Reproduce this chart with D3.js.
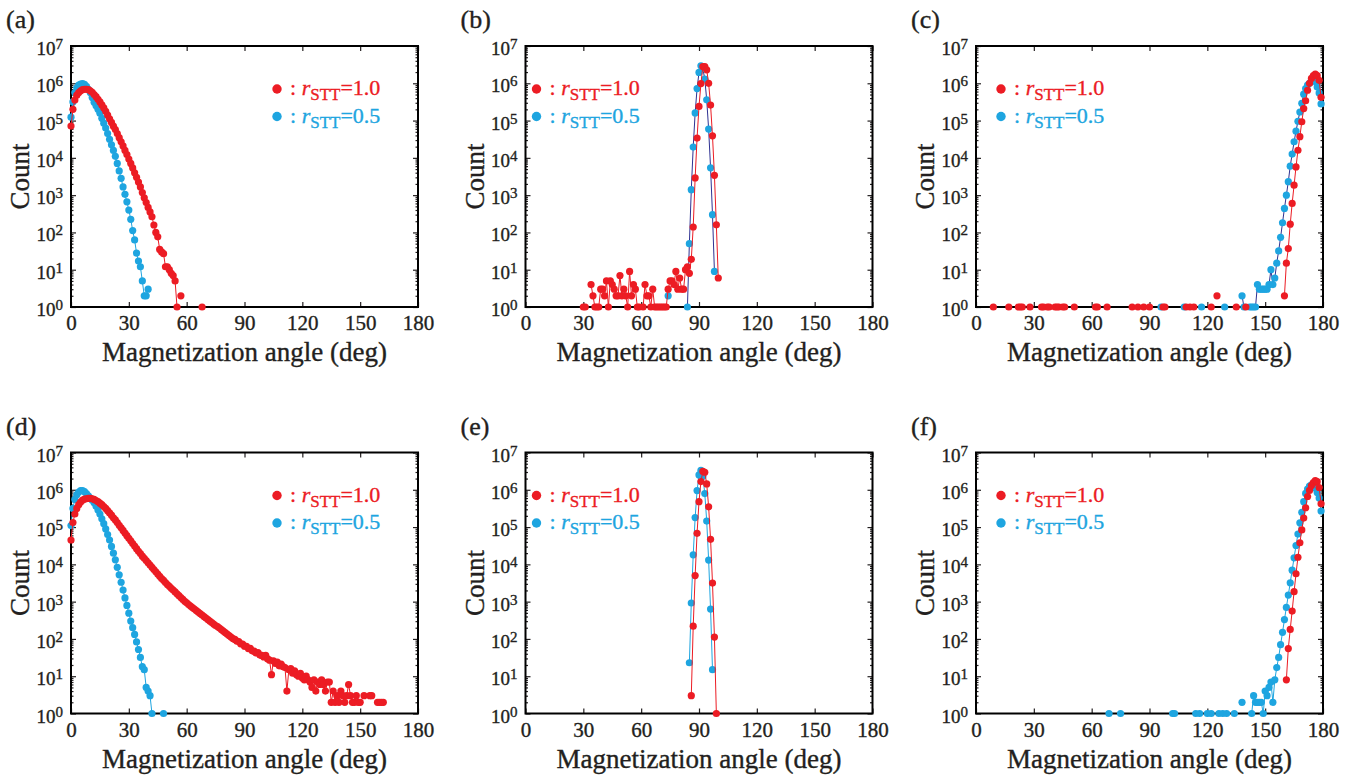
<!DOCTYPE html>
<html>
<head>
<meta charset="utf-8">
<script src="https://cdn.jsdelivr.net/npm/d3@7"></script>
<style>
  html, body { margin: 0; padding: 0; background: #fff; }
  svg { display: block; }
</style>
</head>
<body>
<svg id="fig" width="1361" height="777"></svg>
<script>
// Magnetization-angle histograms (1° bins) on a log count axis.
// Dense runs of bins are given as a start angle plus counts (0 = empty bin);
// isolated bins are listed as [angle, count].

const angleTicks = [0, 30, 60, 90, 120, 150, 180];
const countDecades = [1, 10, 100, 1e3, 1e4, 1e5, 1e6, 1e7];
const panelLetters = ['(a)', '(b)', '(c)', '(d)', '(e)', '(f)'];
const seriesLabels = ['=1.0', '=0.5'];

// (a)
const aRedFrom = 0;
const aRedCounts = [
  71000, 200000, 355000, 479000, 562000, 631000, 676000, 692000, 692000, 676000,
  631000, 575000, 501000, 437000, 372000, 316000, 263000, 219000, 178000, 141000,
  112000, 89100, 70800, 57500, 44700, 34700, 26900, 20900, 15800, 12300,
  9330, 7080, 5370, 3980, 3020, 2240, 1660, 1170, 851, 631,
  468, 355, 263, 158, 100, 76, 35, 30, 27, 12,
  12, 10, 8, 7, 5, 1, 0, 2
];
const aRedStray = [[68, 1]];
const aBlueFrom = 0;
const aBlueCounts = [
  123000, 316000, 562000, 759000, 891000, 955000, 977000, 933000, 832000, 692000,
  562000, 417000, 309000, 251000, 200000, 158000, 115000, 85100, 63100, 44700,
  31600, 22400, 15800, 11000, 7080, 4470, 2820, 1660, 1050, 661,
  398, 224, 112, 63, 28, 17, 12, 5, 2, 2,
  3
];

// (b)
const bRedFrom = 30;
const bRedCounts = [
  1, 1, 0, 0, 4, 2, 1, 1, 1, 3,
  3, 2, 5, 1, 5, 4, 3, 2, 2, 7,
  2, 3, 2, 1, 9, 2, 4, 3, 1, 1,
  0, 1, 4, 2, 2, 1, 3, 1, 1, 1,
  1, 1, 1, 1, 3, 5, 5, 4, 9, 3,
  6, 3, 3, 10, 12, 8, 19, 140, 2900, 34000,
  240000, 980000, 2800000, 2800000, 2300000, 1000000, 260000, 39000, 3400, 160,
  6
];
const bBlueStray = [[74, 2]];
const bBlueFrom = 84;
const bBlueCounts = [1, 50, 1400, 19500, 160000, 720000, 1950000, 2950000, 2500000, 1300000, 360000, 59000, 5400, 300, 9];

// (c)
const cRedStray = [
  [9, 1], [17, 1], [22, 1], [23, 1], [24, 1], [28, 1], [34, 1], [35, 1], [37, 1], [38, 1],
  [41, 1], [42, 1], [43, 1], [45, 1], [46, 1], [51, 1], [62, 1], [63, 1], [68, 1], [81, 1],
  [84, 1], [87, 1], [90, 1], [97, 1], [98, 1], [109, 1], [111, 1], [113, 1], [122, 1], [125, 2],
  [135, 1], [140, 1]
];
const cRedFrom = 160;
const cRedCounts = [2, 15, 37, 166, 600, 1850, 5700, 16000, 37000, 93000, 210000, 340000, 650000, 1000000, 1350000, 1600000, 1750000, 1600000, 1200000, 420000];
const cBlueStray = [[96, 1], [108, 1], [117, 1], [129, 1], [138, 2], [139, 1], [142, 1], [143, 1], [144, 1], [145, 1]];
const cBlueFrom = 146;
const cBlueCounts = [
  4, 3, 3, 3, 3, 3, 4, 10, 4, 6,
  15, 32, 74, 182, 440, 1000, 2300, 6000, 12600, 27000,
  52000, 96000, 170000, 290000, 510000, 720000, 900000, 1000000, 1200000, 1200000,
  1100000, 800000, 550000, 280000
];

// (d)
const dRedFrom = 0;
const dRedCounts = [
  45000, 132000, 224000, 316000, 398000, 468000, 525000, 562000, 575000, 589000,
  589000, 575000, 550000, 513000, 479000, 437000, 398000, 355000, 316000, 275000,
  240000, 209000, 178000, 155000, 132000, 112000, 95500, 81300, 69200, 58900,
  50100, 42700, 36300, 30900, 26300, 22400, 19500, 16600, 14500, 12600,
  11000, 9550, 8320, 7240, 6310, 5500, 4790, 4170, 3720, 3240,
  2880, 2570, 2290, 2040, 1820, 1620, 1450, 1290, 1150, 1020,
  933, 832, 759, 692, 631, 575, 525, 479, 437, 398,
  363, 331, 302, 275, 251, 229, 214, 195, 178, 162,
  148, 135, 123, 112, 102, 97, 88, 85, 74, 73,
  64, 63, 55, 56, 48, 47, 42, 43, 37, 36,
  33, 36, 29, 27, 11, 26, 22, 24, 19, 21,
  18, 17, 4, 15, 16, 12, 14, 11, 10, 12,
  9, 8, 10, 8, 7, 5, 8, 4, 7, 6,
  8, 6, 4, 7, 7, 2, 4, 2, 3, 2,
  4, 3, 2, 3, 6, 3, 2, 2, 3, 2,
  2, 0, 3, 0, 0, 3, 3, 0, 0, 2,
  2, 2, 2
];
const dBlueFrom = 0;
const dBlueCounts = [
  110000, 316000, 550000, 741000, 871000, 955000, 955000, 891000, 794000, 692000,
  603000, 525000, 447000, 363000, 288000, 224000, 166000, 123000, 89100, 63100,
  44700, 30200, 20000, 13200, 8320, 5250, 3310, 2040, 1260, 794,
  490, 302, 200, 132, 83, 52, 32, 18, 15, 5,
  4, 3, 1
];
const dBlueStray = [[48, 1]];

// (e)
const eRedFrom = 86;
const eRedCounts = [3, 220, 5000, 68000, 480000, 1660000, 3100000, 2950000, 1440000, 350000, 47000, 3150, 112, 1];
const eBlueFrom = 85;
const eBlueCounts = [23, 920, 18000, 180000, 950000, 2500000, 3300000, 2300000, 790000, 145000, 13000, 630, 15];

// (f)
const fRedFrom = 161;
const fRedCounts = [8, 55, 180, 560, 1850, 5600, 15500, 38000, 84000, 174000, 330000, 660000, 960000, 1300000, 1550000, 1750000, 1650000, 1150000, 420000];
const fBlueStray = [[69, 1], [75, 1], [102, 1], [103, 1], [114, 1], [116, 1], [120, 1], [122, 1], [126, 1], [128, 1], [130, 1], [134, 1], [138, 2]];
const fBlueFrom = 143;
const fBlueCounts = [
  1, 3, 2, 2, 2, 2, 1, 4, 3, 5,
  7, 2, 8, 17, 32, 70, 150, 330, 700, 1500,
  3200, 7000, 15000, 32000, 65000, 130000, 250000, 480000, 800000, 1050000,
  1250000, 1350000, 1300000, 1100000, 850000, 600000, 270000
];

// ---------------------------------------------------------------------------
const RED = '#ec1c24';
const CYAN = '#1ea5e0';
const NAVY = '#2e3192';
const INK = '#231f20';
const SERIF = "'Liberation Serif', 'Times New Roman', serif";

// Turn a dense run of bins into [angle, count] pairs and merge with isolated bins.
function bins(from, counts) { return counts.map((c, i) => [from + i, c]); }
function series(...parts) {
  return parts.flat().filter(p => p[1] > 0).sort((a, b) => a[0] - b[0]);
}
// Split into runs of adjacent bins, so that empty bins break the connecting line.
function runs(pts) {
  const out = [];
  let cur = [];
  pts.forEach((p, i) => {
    if (i > 0 && p[0] - pts[i - 1][0] > 1) { out.push(cur); cur = []; }
    cur.push(p);
  });
  if (cur.length) out.push(cur);
  return out;
}

const panels = [
  { red: series(bins(aRedFrom, aRedCounts), aRedStray), blue: series(bins(aBlueFrom, aBlueCounts)), blueStroke: CYAN, legendX: 206 },
  { red: series(bins(bRedFrom, bRedCounts)), blue: series(bins(bBlueFrom, bBlueCounts), bBlueStray), blueStroke: NAVY, legendX: 11 },
  { red: series(bins(cRedFrom, cRedCounts), cRedStray), blue: series(bins(cBlueFrom, cBlueCounts), cBlueStray), blueStroke: NAVY, legendX: 25 },
  { red: series(bins(dRedFrom, dRedCounts)), blue: series(bins(dBlueFrom, dBlueCounts), dBlueStray), blueStroke: CYAN, legendX: 206 },
  { red: series(bins(eRedFrom, eRedCounts)), blue: series(bins(eBlueFrom, eBlueCounts)), blueStroke: CYAN, legendX: 11 },
  { red: series(bins(fRedFrom, fRedCounts)), blue: series(bins(fBlueFrom, fBlueCounts), fBlueStray), blueStroke: CYAN, legendX: 25 }
];

const colLeft = [71, 525.5, 976];
const rowTop = [46, 452.5];
const PW = 347, PH = 261;

const svg = d3.select('#fig');
svg.append('rect').attr('width', 1361).attr('height', 777).attr('fill', '#fff');

const minorTicks = [];
countDecades.slice(0, -1).forEach(d => { for (let m = 2; m <= 9; m++) minorTicks.push(d * m); });

// Serif face with slightly heavier glyphs for every label
const inked = (sel, color) => sel.style('font-family', SERIF)
  .attr('fill', color).attr('stroke', color).attr('stroke-width', 0.35);

panels.forEach((p, idx) => {
  const col = idx % 3, row = Math.floor(idx / 3);
  const g = svg.append('g').attr('transform', `translate(${colLeft[col]},${rowTop[row]})`);

  const x = d3.scaleLinear().domain([0, 180]).range([0, PW]);
  const y = d3.scaleLog().domain([1, 1e7]).range([PH, 0]);

  // Bottom axis: inward ticks, angle labels
  const xb = g.append('g').attr('transform', `translate(0,${PH})`)
    .call(d3.axisBottom(x).tickValues(angleTicks).tickSize(-5).tickFormat(d3.format('d')));
  inked(xb.selectAll('text').attr('font-size', 21).attr('dy', null).attr('y', 23), INK);
  // Top axis: ticks only
  g.append('g').call(d3.axisTop(x).tickValues(angleTicks).tickSize(-5).tickFormat(''));

  // Left axis: decades with superscript exponents
  const yl = g.append('g').call(d3.axisLeft(y).tickValues(countDecades).tickSize(-5).tickFormat(''));
  yl.selectAll('.tick').each(function (d) {
    const t = d3.select(this).select('text')
      .attr('x', -8).attr('y', 8.5).attr('dy', null).attr('text-anchor', 'end');
    inked(t, INK);
    t.append('tspan').attr('font-size', 19).text('10');
    t.append('tspan').attr('font-size', 15).attr('dy', -6).text(Math.round(Math.log10(d)));
  });
  g.append('g').call(d3.axisLeft(y).tickValues(minorTicks).tickSize(-2.5).tickFormat(''));
  // Right axis: ticks only
  g.append('g').attr('transform', `translate(${PW},0)`)
    .call(d3.axisRight(y).tickValues(countDecades).tickSize(-5).tickFormat(''));
  g.append('g').attr('transform', `translate(${PW},0)`)
    .call(d3.axisRight(y).tickValues(minorTicks).tickSize(-2.5).tickFormat(''));
  g.selectAll('.domain').remove();
  g.selectAll('.tick line').attr('stroke', INK).attr('stroke-width', 1.2);

  // Frame
  g.append('rect').attr('width', PW).attr('height', PH)
    .attr('fill', 'none').attr('stroke', '#000').attr('stroke-width', 2);

  // Axis titles
  inked(g.append('text').attr('x', PW / 2).attr('y', PH + 54).attr('text-anchor', 'middle')
    .attr('font-size', 27).text('Magnetization angle (deg)'), INK);
  inked(g.append('text').attr('transform', 'rotate(-90)').attr('x', -PH / 2).attr('y', -42)
    .attr('text-anchor', 'middle').attr('font-size', 27).text('Count'), INK);

  // Panel letter
  inked(g.append('text').attr('x', -65).attr('y', -18).attr('font-size', 26)
    .text(panelLetters[idx]), INK);

  // Data: connecting lines then markers; r_STT = 1.0 drawn on top
  const line = d3.line().x(d => x(d[0])).y(d => y(d[1]));
  const drawSeries = (pts, stroke, fill) => {
    g.append('g').selectAll('path').data(runs(pts).filter(r => r.length > 1)).join('path')
      .attr('d', line).attr('fill', 'none').attr('stroke', stroke).attr('stroke-width', 1);
    g.append('g').selectAll('circle').data(pts).join('circle')
      .attr('cx', d => x(d[0])).attr('cy', d => y(d[1])).attr('r', 3.6).attr('fill', fill);
  };
  drawSeries(p.blue, p.blueStroke, CYAN);
  drawSeries(p.red, RED, RED);

  // Legend
  const items = [{ color: RED, label: seriesLabels[0] }, { color: CYAN, label: seriesLabels[1] }];
  items.forEach((it, k) => {
    const cy = 43 + k * 27.5;
    g.append('circle').attr('cx', p.legendX).attr('cy', cy).attr('r', 4.7).attr('fill', it.color);
    const t = g.append('text').attr('x', p.legendX + 13).attr('y', cy + 6).attr('font-size', 22);
    inked(t, it.color);
    t.append('tspan').text(': ');
    t.append('tspan').attr('font-style', 'italic').text('r');
    t.append('tspan').attr('font-size', 17).attr('dy', 5).text('STT');
    t.append('tspan').attr('dy', -5).text(it.label);
  });
});
</script>
</body>
</html>
